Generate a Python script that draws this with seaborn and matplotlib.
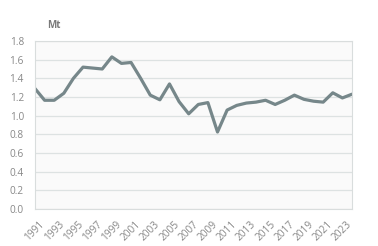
import matplotlib
matplotlib.use("Agg")
import matplotlib.pyplot as plt
import seaborn as sns
import pandas as pd

years = list(range(1991, 2025))
values = [1.29, 1.165, 1.165, 1.24, 1.40, 1.52, 1.51, 1.50, 1.63, 1.56,
          1.57, 1.40, 1.22, 1.17, 1.34, 1.15, 1.02, 1.12, 1.14, 0.825,
          1.06, 1.11, 1.135, 1.145, 1.165, 1.12, 1.165, 1.22, 1.175, 1.155,
          1.145, 1.245, 1.19, 1.23]
tick_years = list(range(1991, 2024, 2))
y_ticks = [0.0, 0.2, 0.4, 0.6, 0.8, 1.0, 1.2, 1.4, 1.6, 1.8]
unit_label = "Mt"

sns.set_theme(style="white")
plt.rcParams['font.family'] = ['Open Sans', 'DejaVu Sans']

df = pd.DataFrame({"year": years, "value": values})

fig = plt.figure(figsize=(3.78, 2.46), dpi=100)
ax = fig.add_axes([35/378, 1-209/246, (352-35)/378, (209-41)/246])
ax.set_facecolor("#fafafa")

sns.lineplot(data=df, x="year", y="value", ax=ax, color="#76878a", linewidth=2.3)

ax.set_xlim(1991, 2024)
ax.set_ylim(0, 1.8)
ax.set_yticks(y_ticks)
ax.set_yticklabels([f"{v:.1f}" for v in y_ticks])
ax.set_xticks(tick_years)
ax.set_xticklabels([str(y) for y in tick_years], rotation=45, ha="center", va="top")
ax.grid(axis="y", color="#dde2e2", linewidth=0.9)
ax.set_axisbelow(True)
ax.tick_params(axis="both", length=0, labelsize=7.3, labelcolor="#888888")
ax.tick_params(axis="y", pad=8)
ax.tick_params(axis="x", pad=7)
for s in ax.spines.values():
    s.set_color("#d9dddd")
    s.set_linewidth(0.8)
ax.set_xlabel("")
ax.set_ylabel("")

fig.text(54/378, 1-25/246, unit_label, fontsize=7, color="#7a7a7a", ha="center", va="center", fontweight="bold")

fig.savefig("out.png", dpi=100)
